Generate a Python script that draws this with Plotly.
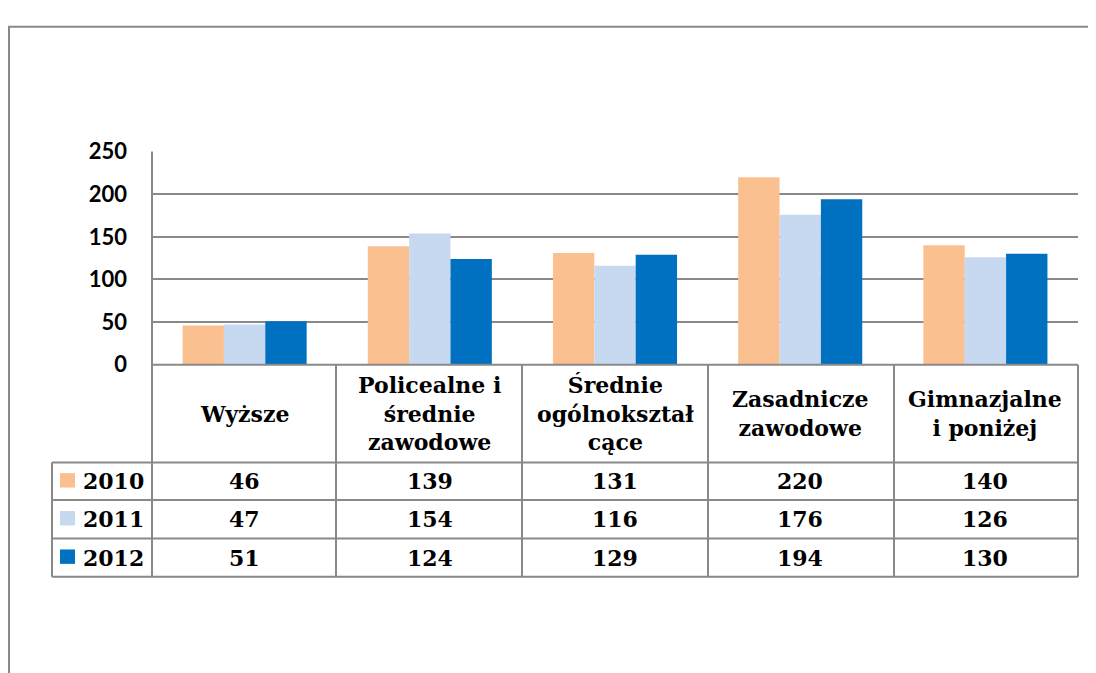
import plotly.graph_objects as go

# ---- data ----
categories = ["Wyższe", "Policealne i średnie zawodowe", "Średnie ogólnokształcące",
              "Zasadnicze zawodowe", "Gimnazjalne i poniżej"]
header_labels = ["Wyższe", "Policealne i<br>średnie<br>zawodowe", "Średnie<br>ogólnokształ<br>cące",
                 "Zasadnicze<br>zawodowe", "Gimnazjalne<br>i poniżej"]
series_names = ["2010", "2011", "2012"]
values_2010 = [46, 139, 131, 220, 140]
values_2011 = [47, 154, 116, 176, 126]
values_2012 = [51, 124, 129, 194, 130]
series_values = [values_2010, values_2011, values_2012]
y_ticks = [0, 50, 100, 150, 200, 250]

# ---- styling ----
colors = ["#FAC090", "#C6D9F1", "#0070C0"]
W, H = 1096, 673
OFF = 8  # page body margin
GRID = "#898989"
SERIF = "DejaVu Serif"


def X(px):
    return (px - OFF) / W


def Y(py):
    return 1 - (py - OFF) / H


plot_left, plot_right = 152, 1078
plot_top, plot_bottom = 143, 365
row_lines = [467, 506, 546, 586]
col_lines = [336, 522, 708, 894]

fig = go.Figure()
for name, vals, col in zip(series_names, series_values, colors):
    fig.add_trace(go.Bar(x=categories, y=vals, name=name,
                         marker=dict(color=col, line=dict(width=0)),
                         showlegend=False))

shapes = []
line = dict(color=GRID, width=2)
# outer chart frame
shapes.append(dict(type="rect", xref="paper", yref="paper", x0=X(9), x1=X(1120),
                   y0=Y(13), y1=Y(720), line=line, fillcolor="rgba(0,0,0,0)", layer="below"))
# left axis line through table
shapes.append(dict(type="line", xref="paper", yref="paper", x0=X(plot_left), x1=X(plot_left),
                   y0=Y(plot_top), y1=Y(row_lines[-1]), line=line))
# axis / table top line
shapes.append(dict(type="line", xref="paper", yref="paper", x0=X(plot_left), x1=X(plot_right),
                   y0=Y(plot_bottom), y1=Y(plot_bottom), line=line))
# table row lines
for r in row_lines:
    shapes.append(dict(type="line", xref="paper", yref="paper", x0=X(52), x1=X(plot_right),
                       y0=Y(r), y1=Y(r), line=line))
# table column lines
for c in col_lines + [plot_right]:
    shapes.append(dict(type="line", xref="paper", yref="paper", x0=X(c), x1=X(c),
                       y0=Y(plot_bottom), y1=Y(row_lines[-1]), line=line))
shapes.append(dict(type="line", xref="paper", yref="paper", x0=X(52), x1=X(52),
                   y0=Y(row_lines[0]), y1=Y(row_lines[-1]), line=line))

annotations = []
# header labels
for cat, lab in zip(categories, header_labels):
    annotations.append(dict(x=cat, xref="x", y=Y((plot_bottom + row_lines[0]) / 2), yref="paper",
                            text=lab, showarrow=False, xanchor="center", yanchor="middle",
                            font=dict(family=SERIF, size=22, color="black", weight="bold")))
# rows
row_tops = row_lines[:-1]
row_bots = row_lines[1:]
for i, (name, vals, col) in enumerate(zip(series_names, series_values, colors)):
    yc = (row_tops[i] + row_bots[i]) / 2
    shapes.append(dict(type="rect", xref="paper", yref="paper", x0=X(60), x1=X(75),
                       y0=Y(yc - 8.5), y1=Y(yc + 6.5), fillcolor=col, line=dict(width=0)))
    annotations.append(dict(x=X(81), xref="paper", y=Y(yc), yref="paper", text=name,
                            showarrow=False, xanchor="left", yanchor="middle",
                            font=dict(family=SERIF, size=22, color="black", weight="bold")))
    for cat, v in zip(categories, vals):
        annotations.append(dict(x=cat, xref="x", y=Y(yc), yref="paper", text=str(v),
                                showarrow=False, xanchor="center", yanchor="middle",
                                font=dict(family=SERIF, size=22, color="black", weight="bold")))

fig.update_layout(
    width=W, height=H,
    margin=dict(l=0, r=0, t=0, b=0),
    paper_bgcolor="white", plot_bgcolor="white",
    barmode="group", bargap=0.33, bargroupgap=0,
    xaxis=dict(domain=[X(plot_left), X(plot_right)], showticklabels=False, showgrid=False,
               zeroline=False, showline=False, fixedrange=True),
    yaxis=dict(domain=[Y(plot_bottom), Y(plot_top)], range=[0, 250], tickvals=y_ticks,
               showgrid=True, gridcolor=GRID, gridwidth=2, zeroline=False, showline=False,
               ticks="", ticklabelstandoff=24,
               tickfont=dict(family="Lato", size=22, color="black", weight="bold")),
    shapes=shapes,
    annotations=annotations,
)

fig.write_html("out.html")
